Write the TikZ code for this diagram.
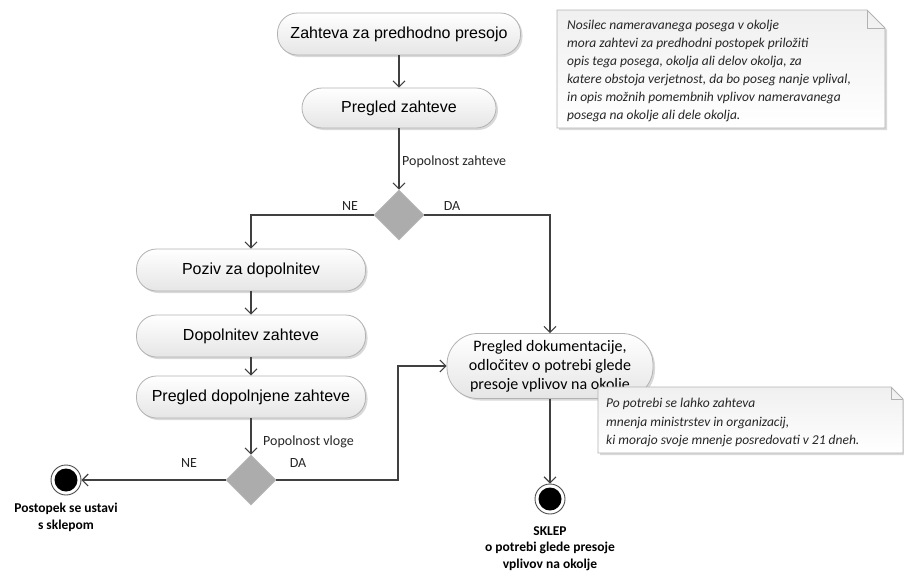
\documentclass[tikz,border=0pt]{standalone}
\usepackage{fontspec}
\setmainfont{Liberation Sans}
\newfontfamily\calib{Carlito}
\usetikzlibrary{arrows.meta,shapes.geometric,shadows}
\tikzset{
  act/.style={draw=gray!60, line width=0.8pt, top color=white, bottom color=gray!20,
    rounded corners=20pt, minimum height=42pt, inner sep=2pt,
    font=\fontsize{16}{19}\selectfont,
    drop shadow={opacity=0.3, shadow xshift=2pt, shadow yshift=-2pt}},
  dec/.style={diamond, fill=gray!65, draw=gray!55, line width=0.6pt, minimum width=50pt, minimum height=50pt, inner sep=0pt},
  finring/.style={circle, draw=black!70, line width=0.9pt, minimum size=30pt, inner sep=0pt, fill=white},
  findot/.style={circle, fill=black, minimum size=23pt, inner sep=0pt},
  flow/.style={draw=black!75, line width=1.1pt, -{Straight Barb[length=6pt,width=12pt,line width=1.1pt]}},
  lbl/.style={font=\calib\fontsize{14}{16}\selectfont, text=black!85, inner sep=0pt},
  endlbl/.style={font=\calib\bfseries\fontsize{13.5}{17}\selectfont, align=center, inner sep=0pt},
  notebox/.style={draw=gray!60, line width=0.8pt, top color=gray!12, bottom color=white,
    drop shadow={opacity=0.3, shadow xshift=2pt, shadow yshift=-2pt}},
  notetxt/.style={font=\calib\itshape\fontsize{13.5}{18}\selectfont, align=left, inner sep=0pt, text=black!85},
}
\begin{document}
\begin{tikzpicture}[x=1pt,y=-1pt]
\useasboundingbox (0,0) rectangle (904,574);

% notes
\path[notebox] (557,10) -- (867,10) -- (885,28) -- (885,128) -- (557,128) -- cycle;
\draw[draw=gray!60, line width=0.8pt] (867,10) -- (867,28) -- (885,28);
\node[notetxt, anchor=north west] (n1) at (567,20)
 {Nosilec nameravanega posega v okolje\\
  mora zahtevi za predhodni postopek priložiti\\
  opis tega posega, okolja ali delov okolja, za\\
  katere obstoja verjetnost, da bo poseg nanje vplival,\\
  in opis možnih pomembnih vplivov nameravanega\\
  posega na okolje ali dele okolja.};

% activities
\node[act, minimum width=243pt] (b1) at (399,34) {Zahteva za predhodno presojo};
\node[act, minimum width=194pt, minimum height=40pt] (b2) at (399,108) {Pregled zahteve};
\node[dec] (d1) at (399,215) {};
\node[act, minimum width=229pt] (p1) at (251,270) {Poziv za dopolnitev};
\node[act, minimum width=229pt] (p2) at (251,336) {Dopolnitev zahteve};
\node[act, minimum width=229pt] (p3) at (251,397) {Pregled dopolnjene zahteve};
\node[dec] (d2) at (251,480) {};
\node[act, minimum width=206pt, minimum height=65pt, rounded corners=31pt, align=center,
  font=\calib\fontsize{16}{19}\selectfont] (pd) at (550,366)
  {Pregled dokumentacije,\\odločitev o potrebi glede\\presoje vplivov na okolje};

% final nodes
\node[finring] (e1r) at (66,480) {};
\node[findot] (e1) at (66,480) {};
\node[finring] (e2r) at (550,499) {};
\node[findot] (e2) at (550,499) {};

% connectors
\draw[flow] (b1) -- (b2);
\draw[flow] (b2) -- (d1);
\draw[flow] (d1.west) -| (p1.north);
\draw[flow] (d1.east) -| (pd.north);
\draw[flow] (p1) -- (p2);
\draw[flow] (p2) -- (p3);
\draw[flow] (p3) -- (d2);
\draw[flow] (d2.west) -- (e1r.east);
\coordinate (j1) at (398,480);
\draw[flow] (d2.east) -- (j1) |- (pd.west);
\draw[flow] (pd.south) -- (e2r.north);

% labels
\node[lbl, anchor=west] (l1) at (402,162) {Popolnost zahteve};
\node[lbl] (l2) at (350,206) {NE};
\node[lbl] (l3) at (452,206) {DA};
\node[lbl, anchor=west] (l4) at (263,442) {Popolnost vloge};
\node[lbl] (l5) at (189,463) {NE};
\node[lbl] (l6) at (298,463) {DA};
\node[endlbl] (t1) at (66,517) {Postopek se ustavi\\s sklepom};
\node[endlbl, anchor=north, font=\calib\bfseries\fontsize{13.5}{16.5}\selectfont] (t2) at (550,526) {SKLEP\\o potrebi glede presoje\\vplivov na okolje};

% second note (over the activity)
\path[notebox] (598,387) -- (891,387) -- (903,399) -- (903,453) -- (598,453) -- cycle;
\draw[draw=gray!60, line width=0.8pt] (891,387) -- (891,399) -- (903,399);
\node[notetxt, anchor=north west, font=\calib\itshape\fontsize{13.5}{18.5}\selectfont] (n2) at (606,398)
 {Po potrebi se lahko zahteva\\
  mnenja ministrstev in organizacij,\\
  ki morajo svoje mnenje posredovati v 21 dneh.};
\end{tikzpicture}
\end{document}
